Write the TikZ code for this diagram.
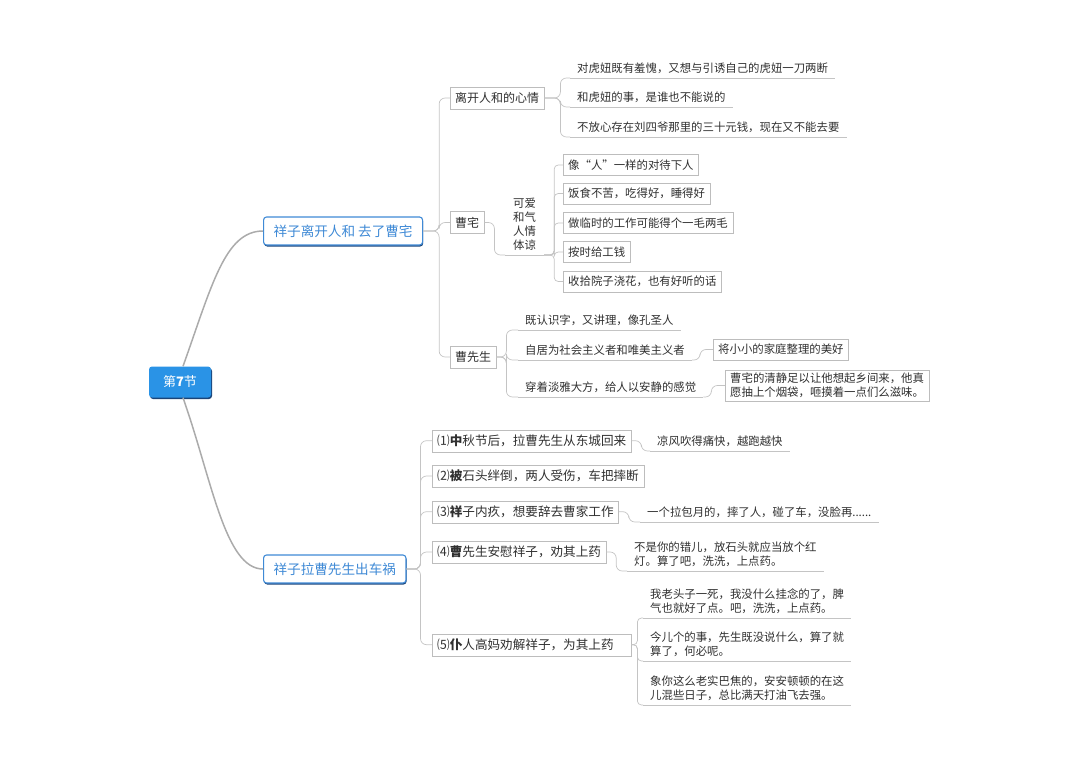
\documentclass[tikz,border=0pt]{standalone}
\usepackage{fontspec}
\setmainfont{Noto Sans CJK SC}
\usetikzlibrary{shadows}
\definecolor{rootblue}{HTML}{2A93E6}
\definecolor{topicblue}{HTML}{3F8AD6}
\definecolor{shadeblue}{HTML}{1B4478}
\definecolor{linegray}{HTML}{C4C4C4}
\definecolor{maingray}{HTML}{ABABAB}
\definecolor{boxgray}{HTML}{BDBDBD}
\definecolor{txt}{HTML}{303030}
\begin{document}
\begin{tikzpicture}[x=1pt, y=-1pt,
        every node/.style={text=txt, font=\fontsize{11.4}{14}\selectfont},
        root/.style={fill=rootblue, text=white, rounded corners=3pt, minimum width=62pt, minimum height=31pt, font=\fontsize{13}{15}\selectfont, drop shadow={shadow xshift=1pt, shadow yshift=-1.5pt, fill=shadeblue, opacity=1}},
        topic/.style={anchor=west, draw=topicblue, line width=1.1pt, fill=white, text=topicblue, rounded corners=3pt, minimum height=28pt, inner xsep=10pt, font=\fontsize{13.6}{16}\selectfont, drop shadow={shadow xshift=0.6pt, shadow yshift=-1.5pt, fill=shadeblue, opacity=1}},
        sub/.style={anchor=west, draw=boxgray, fill=white, minimum height=22pt, inner xsep=5pt, font=\fontsize{12}{14}\selectfont},
        box/.style={anchor=west, draw=boxgray, fill=white, minimum height=21pt, inner xsep=5pt, align=left},
        bigbox/.style={box, minimum height=22pt, font=\fontsize{12.6}{15}\selectfont},
        leaf/.style={anchor=south west, inner xsep=7pt, inner ysep=4pt, align=left},
        line/.style={draw=linegray, line width=0.7pt, rounded corners=6pt},
        main/.style={draw=maingray, line width=1.5pt}]
    \useasboundingbox (0,0) rectangle (1080,760);

    \node[root] (r) at (180,382) {第\textbf{7}节};
    \node[topic] (t1) at (263,231) {祥子离开人和\ 去了曹宅};
    \node[topic] (t2) at (263,569) {祥子拉曹先生出车祸};

    \node[sub] (s1) at (450,98) {离开人和的心情};
    \node[sub] (s2) at (450,222.5) {曹宅};
    \node[sub] (s3) at (450,357) {曹先生};

    \node[leaf] (l1) at (570,78) {对虎妞既有羞愧，又想与引诱自己的虎妞一刀两断};
    \node[leaf] (l2) at (570,107) {和虎妞的事，是谁也不能说的};
    \node[leaf] (l3) at (570,137) {不放心存在刘四爷那里的三十元钱，现在又不能去要};

    \node[leaf, inner xsep=8pt] (kq) at (505,255) {可爱\\和气\\人情\\体谅};
    \node[box] (c1) at (563,165) {像“人”一样的对待下人};
    \node[box] (c2) at (563,193.5) {饭食不苦，吃得好，睡得好};
    \node[box] (c3) at (563,223) {做临时的工作可能得个一毛两毛};
    \node[box] (c4) at (563,252) {按时给工钱};
    \node[box] (c5) at (563,281.5) {收拾院子浇花，也有好听的话};

    \node[leaf] (m1) at (518,330) {既认识字，又讲理，像孔圣人};
    \node[leaf] (m2) at (518,360) {自居为社会主义者和唯美主义者};
    \node[leaf] (m3) at (518,397) {穿着淡雅大方，给人以安静的感觉};
    \node[box] (n2) at (713,349.5) {将小小的家庭整理的美好};
    \node[box, inner ysep=3pt, font=\fontsize{11.4}{13.5}\selectfont] (n3) at (725,385.5) {曹宅的清静足以让他想起乡间来，他真\\愿抽上个烟袋，咂摸着一点们么滋味。};

    \node[bigbox] (d1) at (432,440.7) {⑴\textbf{中}秋节后，拉曹先生从东城回来};
    \node[bigbox] (d2) at (432,476) {⑵\textbf{被}石头绊倒，两人受伤，车把摔断};
    \node[bigbox] (d3) at (432,511.7) {⑶\textbf{祥}子内疚，想要辞去曹家工作};
    \node[bigbox] (d4) at (432,552) {⑷\textbf{曹}先生安慰祥子，劝其上药};
    \node[bigbox, text width=189pt] (d5) at (432,644.7) {⑸\textbf{仆}人高妈劝解祥子，为其上药};

    \node[leaf] (e1) at (650,451) {凉风吹得痛快，越跑越快};
    \node[leaf] (e3) at (640,522) {一个拉包月的，摔了人，碰了车，没脸再......};
    \node[leaf] (e4) at (627,571) {不是你的错儿，放石头就应当放个红\\灯。算了吧，洗洗，上点药。};
    \node[leaf] (e5) at (643,618) {我老头子一死，我没什么挂念的了，脾\\气也就好了点。吧，洗洗，上点药。};
    \node[leaf] (e6) at (643,661) {今儿个的事，先生既没说什么，算了就\\算了，何必呢。};
    \node[leaf] (e7) at (643,705) {象你这么老实巴焦的，安安顿顿的在这\\儿混些日子，总比满天打油飞去强。};

    \draw[main] ([xshift=3pt]r.north) .. controls (212,285) and (225,231) .. (t1.west);
    \draw[main] ([xshift=3pt]r.south) .. controls (212,480) and (225,569) .. (t2.west);

    \foreach \c in {s1,s2,s3} \draw[line] (t1.east) -- ++(16,0) |- (\c.west);
    \foreach \c in {l1,l2,l3} \draw[line] (s1.east) -- ++(16,0) |- (\c.south west);
    \draw[line] (s2.east) -- ++(10,0) |- (kq.south west);
    \foreach \c in {c1,c2,c3,c4,c5} \draw[line, rounded corners=4pt] (kq.south east) -- ++(10,0) |- (\c.west);
    \foreach \c in {m1,m2,m3} \draw[line] (s3.east) -- ++(10,0) |- (\c.south west);
    \draw[line] (m2.south east) -- ++(8,0) |- (n2.west);
    \draw[line] (m3.south east) -- ++(8,0) |- (n3.west);

    \foreach \c in {d1,d2,d3,d4,d5} \draw[line] (t2.east) -- ++(14,0) |- (\c.west);
    \draw[line] (d1.east) -- ++(10,0) |- (e1.south west);
    \draw[line] (d3.east) -- ++(10,0) |- (e3.south west);
    \draw[line] (d4.east) -- ++(10,0) |- (e4.south west);
    \foreach \c in {e5,e6,e7} \draw[line, rounded corners=4pt] (d5.east) -- ++(6,0) |- (\c.south west);

    \foreach \n in {l1,l2,l3,kq,m1,m2,m3,e1,e3,e4,e5,e6,e7} \draw[line] (\n.south west) -- (\n.south east);
\end{tikzpicture}
\end{document}
